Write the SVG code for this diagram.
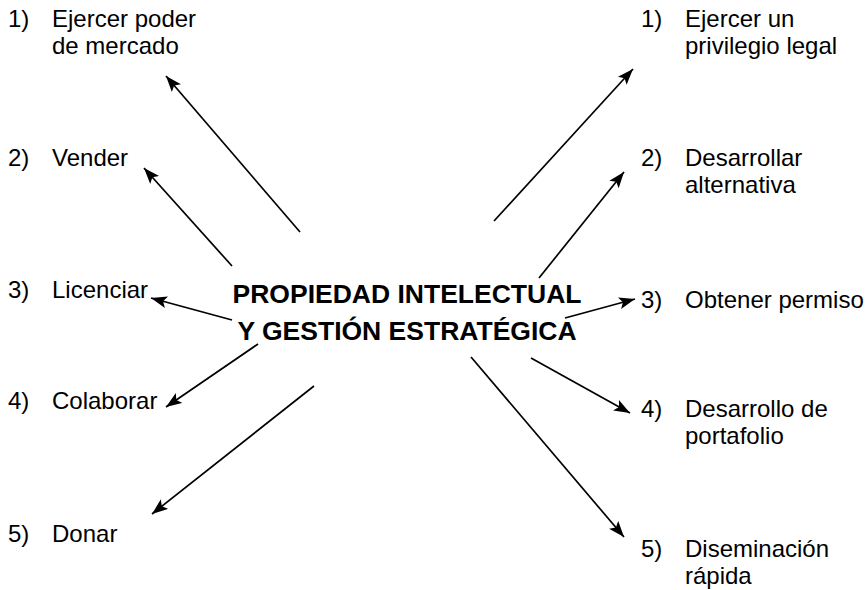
<svg xmlns="http://www.w3.org/2000/svg" width="867" height="590" viewBox="0 0 867 590">
<defs>
<style>
.lbl{font-family:"Liberation Sans",Arial,sans-serif;font-size:24px;fill:#000}
.ttl{font-family:"Liberation Sans",Arial,sans-serif;font-size:26.5px;font-weight:bold;fill:#000;text-anchor:middle}
.con line{stroke:#000;stroke-width:1.7;fill:none;marker-end:url(#ah)}
</style>
<marker id="ah" markerUnits="userSpaceOnUse" markerWidth="17" markerHeight="13" refX="16" refY="6" orient="auto">
<path d="M0,0 L16,6 L0,12 L3.5,6 z" fill="#000"/>
</marker>
</defs>
<rect width="867" height="590" fill="#fff"/>
<g id="center"><text class="ttl" x="407" y="303">PROPIEDAD INTELECTUAL</text><text class="ttl" x="407" y="340">Y GESTIÓN ESTRATÉGICA</text></g>
<g id="l1"><text class="lbl" x="8" y="27">1)</text><text class="lbl" x="52" y="27">Ejercer poder</text><text class="lbl" x="52" y="54">de mercado</text></g>
<g id="l2"><text class="lbl" x="8" y="166">2)</text><text class="lbl" x="52" y="166">Vender</text></g>
<g id="l3"><text class="lbl" x="8" y="298">3)</text><text class="lbl" x="52" y="298">Licenciar</text></g>
<g id="l4"><text class="lbl" x="8" y="409">4)</text><text class="lbl" x="52" y="409">Colaborar</text></g>
<g id="l5"><text class="lbl" x="8" y="542">5)</text><text class="lbl" x="52" y="542">Donar</text></g>
<g id="r1"><text class="lbl" x="641" y="27">1)</text><text class="lbl" x="685" y="27">Ejercer un</text><text class="lbl" x="685" y="54">privilegio legal</text></g>
<g id="r2"><text class="lbl" x="641" y="166">2)</text><text class="lbl" x="685" y="166">Desarrollar</text><text class="lbl" x="685" y="193">alternativa</text></g>
<g id="r3"><text class="lbl" x="641" y="308">3)</text><text class="lbl" x="685" y="308">Obtener permiso</text></g>
<g id="r4"><text class="lbl" x="641" y="417">4)</text><text class="lbl" x="685" y="417">Desarrollo de</text><text class="lbl" x="685" y="444">portafolio</text></g>
<g id="r5"><text class="lbl" x="641" y="557">5)</text><text class="lbl" x="685" y="557">Diseminación</text><text class="lbl" x="685" y="584">rápida</text></g>
<g id="connectors" class="con">
<line x1="300" y1="232" x2="166" y2="76"/>
<line x1="232" y1="266" x2="144" y2="168"/>
<line x1="232" y1="320" x2="151" y2="298"/>
<line x1="258" y1="344" x2="166" y2="407"/>
<line x1="314" y1="386" x2="152" y2="514"/>
<line x1="494" y1="221" x2="633" y2="69"/>
<line x1="539" y1="278" x2="624" y2="172"/>
<line x1="565" y1="318" x2="635" y2="299"/>
<line x1="531" y1="358" x2="630" y2="413"/>
<line x1="471" y1="357" x2="624" y2="537"/>
</g>
</svg>
